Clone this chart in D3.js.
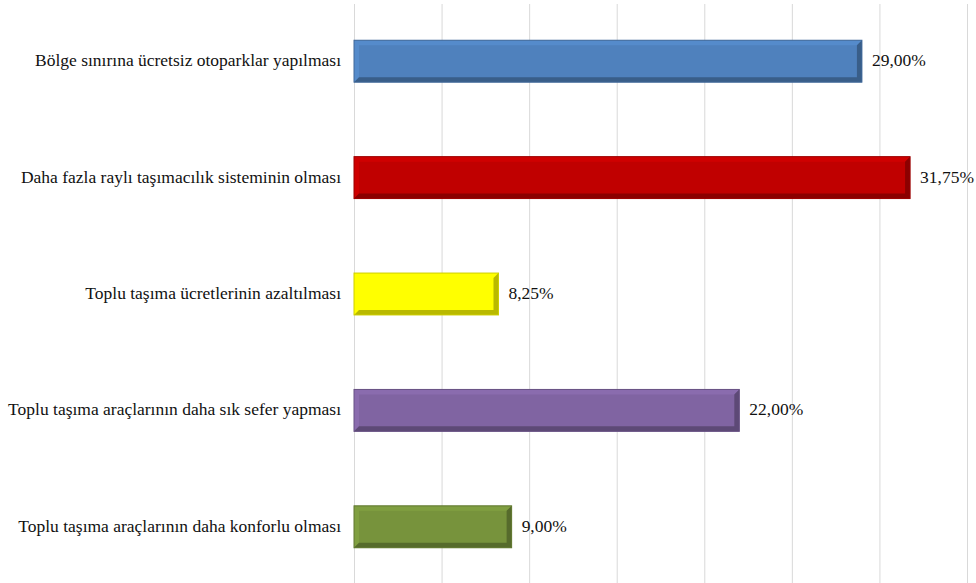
<!DOCTYPE html>
<html>
<head>
<meta charset="utf-8">
<script src="https://cdn.jsdelivr.net/npm/d3@7"></script>
<style>
  body { margin: 0; background: #fff; }
  svg { display: block; }
  .lbl { font-family: "Liberation Serif", "Times New Roman", serif; font-size: 16.5px; fill: #111; }
</style>
</head>
<body>
<div id="chart"></div>
<script>
// Beklentiler - yatay çubuk grafik
const categories = [
    "Bölge sınırına ücretsiz otoparklar yapılması",
    "Daha fazla raylı taşımacılık sisteminin olması",
    "Toplu taşıma ücretlerinin azaltılması",
    "Toplu taşıma araçlarının daha sık sefer yapması",
    "Toplu taşıma araçlarının daha konforlu olması"
];
const values = [29.00, 31.75, 8.25, 22.00, 9.00];
const valueLabels = ["29,00%", "31,75%", "8,25%", "22,00%", "9,00%"];
const gridTicks = [0, 5, 10, 15, 20, 25, 30, 35];
const fills = ["#4f81bd", "#c00000", "#ffff00", "#8064a2", "#77933c"];

const width = 976, height = 583;
const stretch = 1.06; // yazılar yatayda biraz geniş

const svg = d3.select("#chart")
    .append("svg")
    .attr("width", width)
    .attr("height", height);

const x = d3.scaleLinear()
    .domain([0, 35])
    .range([354, 967]);

const y = d3.scaleBand()
    .domain(categories)
    .range([3, 585])
    .paddingInner(0.64)
    .paddingOuter(0.32);

// dikey kılavuz çizgileri
svg.append("g")
    .selectAll("line")
    .data(gridTicks)
    .join("line")
    .attr("x1", d => x(d) + 0.5)
    .attr("x2", d => x(d) + 0.5)
    .attr("y1", 4)
    .attr("y2", height)
    .attr("stroke", "#d9d9d9")
    .attr("stroke-width", 1);

const rows = categories.map((c, i) => ({ cat: c, v: values[i], lab: valueLabels[i], fill: fills[i] }));

const bars = svg.append("g")
    .selectAll("g")
    .data(rows)
    .join("g")
    .attr("transform", d => `translate(${x(0)},${y(d.cat)})`);

const bw = d => x(d.v) - x(0);
const bh = y.bandwidth();
const e = 5; // bevel genişliği

bars.append("rect")
    .attr("width", bw)
    .attr("height", bh)
    .attr("fill", d => d.fill);

// üst/sol açık kenar
bars.append("path")
    .attr("d", d => {
        const w = bw(d);
        return `M0,0 L${w},0 L${w - e},${e} L${e},${e} L${e},${bh - e} L0,${bh} Z`;
    })
    .attr("fill", d => d3.color(d.fill).brighter(0.3))
    .attr("opacity", 0.7);

// alt/sağ koyu kenar
bars.append("path")
    .attr("d", d => {
        const w = bw(d);
        return `M${w},0 L${w},${bh} L0,${bh} L${e},${bh - e} L${w - e},${bh - e} L${w - e},${e} Z`;
    })
    .attr("fill", d => d3.color(d.fill).darker(0.9));

bars.append("rect")
    .attr("width", bw)
    .attr("height", bh)
    .attr("fill", "none")
    .attr("stroke", d => d3.color(d.fill).darker(0.6))
    .attr("stroke-width", 1);

// kategori etiketleri
svg.append("g")
    .selectAll("text")
    .data(rows)
    .join("text")
    .attr("class", "lbl")
    .attr("transform", d => `translate(341,${y(d.cat) + bh / 2 + 5}) scale(${stretch},1)`)
    .attr("text-anchor", "end")
    .text(d => d.cat);

// değer etiketleri
svg.append("g")
    .selectAll("text")
    .data(rows)
    .join("text")
    .attr("class", "lbl")
    .attr("transform", d => `translate(${x(d.v) + 10},${y(d.cat) + bh / 2 + 5}) scale(${stretch},1)`)
    .text(d => d.lab);
</script>
</body>
</html>
